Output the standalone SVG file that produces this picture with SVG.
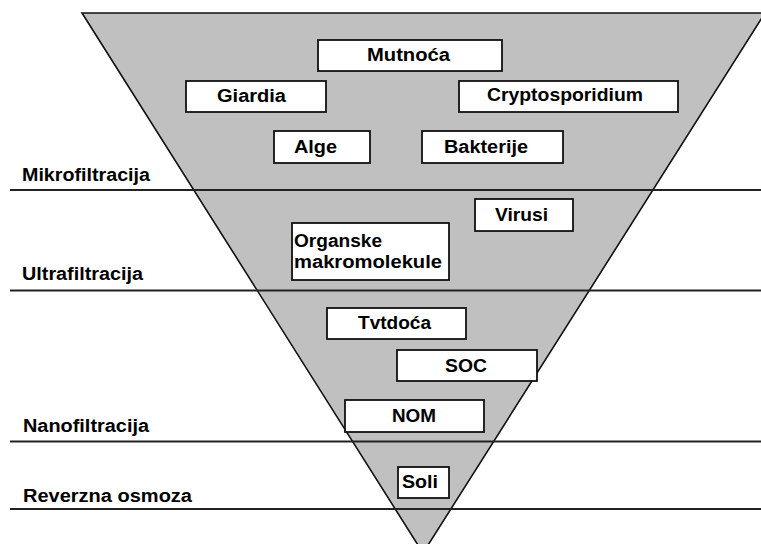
<svg xmlns="http://www.w3.org/2000/svg" width="761" height="544" viewBox="0 0 761 544">
<style>
.bg{fill:#ffffff}
.tri{fill:#c0c0c0;stroke:#111;stroke-width:1.6}
.sep{stroke:#222;stroke-width:1.8;fill:none}
.box{fill:#ffffff;stroke:#111;stroke-width:1.8}
text{font-family:"Liberation Sans",Arial,sans-serif;font-weight:bold;font-size:18px;fill:#000}
</style>
<rect class="bg" x="0" y="0" width="761" height="544"/>
<polygon class="tri" points="82,13 765,13 423,553"/>
<g id="connectors">
<line class="sep" x1="10" y1="190" x2="761" y2="190"/>
<line class="sep" x1="10" y1="290.5" x2="761" y2="290.5"/>
<line class="sep" x1="10" y1="441.5" x2="761" y2="441.5"/>
<line class="sep" x1="10" y1="509" x2="761" y2="509"/>
</g>
<g id="labels">
<text x="22" y="181" textLength="128" lengthAdjust="spacingAndGlyphs">Mikrofiltracija</text>
<text x="22" y="280" textLength="121" lengthAdjust="spacingAndGlyphs">Ultrafiltracija</text>
<text x="23" y="432" textLength="126" lengthAdjust="spacingAndGlyphs">Nanofiltracija</text>
<text x="23" y="502" textLength="169" lengthAdjust="spacingAndGlyphs">Reverzna osmoza</text>
</g>
<g id="mutnoca"><rect class="box" x="318" y="40" width="184" height="31"/><text x="367" y="61" textLength="83" lengthAdjust="spacingAndGlyphs">Mutnoća</text></g>
<g id="giardia"><rect class="box" x="186" y="81" width="140" height="31"/><text x="217" y="102" textLength="69" lengthAdjust="spacingAndGlyphs">Giardia</text></g>
<g id="cryptosporidium"><rect class="box" x="459" y="81" width="219" height="31"/><text x="487" y="101" textLength="156" lengthAdjust="spacingAndGlyphs">Cryptosporidium</text></g>
<g id="alge"><rect class="box" x="274" y="131" width="96" height="32"/><text x="294" y="153" textLength="43" lengthAdjust="spacingAndGlyphs">Alge</text></g>
<g id="bakterije"><rect class="box" x="422" y="131" width="141" height="32"/><text x="444" y="153" textLength="84" lengthAdjust="spacingAndGlyphs">Bakterije</text></g>
<g id="virusi"><rect class="box" x="475" y="199" width="98" height="32"/><text x="495" y="221" textLength="53" lengthAdjust="spacingAndGlyphs">Virusi</text></g>
<g id="organske"><rect class="box" x="292" y="223" width="157" height="57"/><text x="294" y="247" textLength="88" lengthAdjust="spacingAndGlyphs">Organske</text><text x="294" y="268" textLength="148" lengthAdjust="spacingAndGlyphs">makromolekule</text></g>
<g id="tvrdoca"><rect class="box" x="327" y="308" width="139" height="31"/><text x="358" y="329" textLength="73" lengthAdjust="spacingAndGlyphs">Tvtdoća</text></g>
<g id="soc"><rect class="box" x="397" y="350" width="140" height="31"/><text x="445" y="372" textLength="42" lengthAdjust="spacingAndGlyphs">SOC</text></g>
<g id="nom"><rect class="box" x="345" y="400" width="139" height="32"/><text x="392" y="422" textLength="44" lengthAdjust="spacingAndGlyphs">NOM</text></g>
<g id="soli"><rect class="box" x="398" y="467" width="51" height="31"/><text x="402" y="488" textLength="36" lengthAdjust="spacingAndGlyphs">Soli</text></g>
</svg>
